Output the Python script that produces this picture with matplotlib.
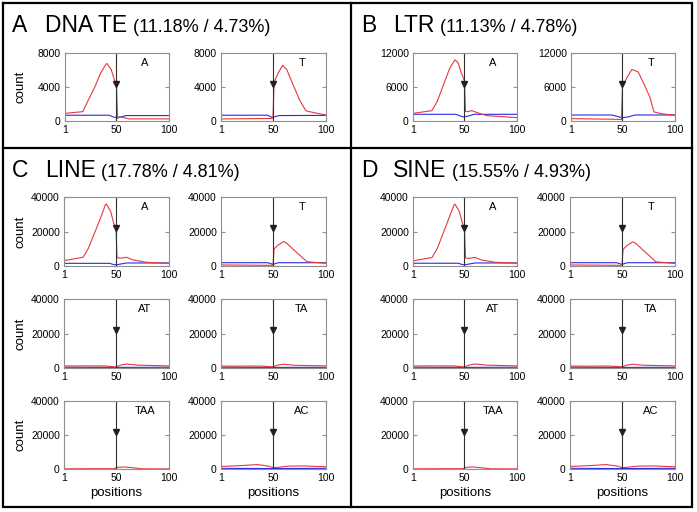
import matplotlib.pyplot as plt

plt.rcParams['font.family'] = ['Liberation Sans', 'DejaVu Sans']

# ==========================================
# data, x = position, y = count
# ==========================================
# A  DNA TE
dna_A_red_x = [1, 18, 21, 29, 35, 40, 41, 45, 48, 50, 51, 53, 57, 62, 100]
dna_A_red_y = [900, 1100, 1900, 3900, 5650, 6700, 6750, 6050, 4850, 4350, 300, 500, 400, 250, 250]
dna_A_blue_x = [1, 43, 47, 50, 54, 59, 100]
dna_A_blue_y = [680, 680, 480, 400, 470, 640, 640]
dna_T_red_x = [1, 48, 50, 51, 52, 55, 59, 63, 69, 75, 81, 88, 100]
dna_T_red_y = [240, 300, 320, 4450, 4850, 5650, 6550, 6050, 4250, 2500, 1200, 1000, 700]
dna_T_blue_x = [1, 45, 49, 52, 56, 100]
dna_T_blue_y = [680, 680, 430, 510, 640, 660]

# B  LTR
ltr_A_red_x = [1, 19, 24, 30, 36, 41, 44, 47, 49, 50, 51, 53, 57, 62, 71, 100]
ltr_A_red_y = [1350, 1830, 3430, 6380, 9340, 10800, 10250, 8450, 7570, 7000, 1700, 1650, 1830, 1480, 950, 590]
ltr_A_blue_x = [1, 42, 46, 49, 54, 59, 100]
ltr_A_blue_y = [1180, 1180, 890, 710, 890, 1180, 1180]
ltr_T_red_x = [1, 43, 49, 50, 51, 54, 59, 65, 71, 76, 80, 87, 100]
ltr_T_red_y = [420, 300, 250, 6000, 6300, 7600, 9100, 8650, 6300, 4250, 1600, 1300, 1000]
ltr_T_blue_x = [1, 40, 47, 50, 55, 62, 100]
ltr_T_blue_y = [1060, 1060, 700, 590, 710, 1060, 1060]

# C  LINE
line_A_red_x = [1, 19, 24, 31, 36, 40, 41, 45, 48, 49, 50, 51, 54, 60, 66, 79, 100]
line_A_red_y = [3100, 5050, 10300, 21000, 28700, 35500, 35900, 31600, 24500, 23300, 22000, 4850, 4500, 5050, 3500, 2150, 1550]
line_A_blue_x = [1, 44, 48, 50, 54, 60, 100]
line_A_blue_y = [1550, 1550, 800, 600, 1100, 1750, 1750]
line_T_red_x = [1, 48, 50, 51, 55, 60, 63, 69, 75, 82, 100]
line_T_red_y = [600, 400, 450, 9900, 12200, 14200, 13200, 9700, 6400, 2500, 1550]
line_T_blue_x = [1, 45, 50, 55, 100]
line_T_blue_y = [1900, 1900, 950, 1900, 1900]
line_AT_red_x = [1, 40, 50, 55, 60, 70, 100]
line_AT_red_y = [1200, 1200, 600, 1800, 2300, 1700, 1200]
line_AT_blue_x = [1, 50, 100]
line_AT_blue_y = [450, 350, 450]
line_TA_red_x = [1, 40, 50, 55, 60, 70, 100]
line_TA_red_y = [1100, 1100, 650, 1700, 2200, 1600, 1200]
line_TA_blue_x = [1, 50, 100]
line_TA_blue_y = [450, 350, 400]
line_TAA_red_x = [1, 48, 52, 58, 65, 75, 100]
line_TAA_red_y = [100, 150, 1000, 1200, 800, 100, 50]
line_TAA_blue_x = [1, 100]
line_TAA_blue_y = [50, 50]
line_AC_red_x = [1, 20, 35, 45, 50, 55, 65, 80, 100]
line_AC_red_y = [1500, 2000, 2600, 1800, 800, 1000, 1700, 1800, 1300]
line_AC_blue_x = [1, 50, 100]
line_AC_blue_y = [400, 250, 400]

# D  SINE
sine_A_red_x = [1, 19, 24, 31, 36, 40, 41, 45, 48, 49, 50, 51, 54, 60, 66, 79, 100]
sine_A_red_y = [3000, 4900, 10000, 21000, 29000, 35300, 35800, 31800, 24800, 23500, 22200, 4700, 4400, 5000, 3500, 2200, 1600]
sine_A_blue_x = [1, 44, 48, 50, 54, 60, 100]
sine_A_blue_y = [1600, 1600, 800, 600, 1100, 1750, 1750]
sine_T_red_x = [1, 48, 50, 51, 55, 60, 63, 69, 75, 82, 100]
sine_T_red_y = [600, 400, 450, 9600, 12000, 14000, 13200, 9700, 6400, 2400, 1500]
sine_T_blue_x = [1, 45, 50, 55, 100]
sine_T_blue_y = [1900, 1900, 950, 1900, 1900]
sine_AT_red_x = [1, 40, 50, 55, 60, 70, 100]
sine_AT_red_y = [1200, 1200, 600, 1800, 2300, 1700, 1200]
sine_AT_blue_x = [1, 50, 100]
sine_AT_blue_y = [450, 350, 450]
sine_TA_red_x = [1, 40, 50, 55, 60, 70, 100]
sine_TA_red_y = [1100, 1100, 650, 1700, 2200, 1600, 1200]
sine_TA_blue_x = [1, 50, 100]
sine_TA_blue_y = [450, 350, 400]
sine_TAA_red_x = [1, 48, 52, 58, 65, 75, 100]
sine_TAA_red_y = [100, 150, 1000, 1200, 800, 100, 50]
sine_TAA_blue_x = [1, 100]
sine_TAA_blue_y = [50, 50]
sine_AC_red_x = [1, 20, 35, 45, 50, 55, 65, 80, 100]
sine_AC_red_y = [1500, 2000, 2600, 1800, 800, 1000, 1700, 1800, 1300]
sine_AC_blue_x = [1, 50, 100]
sine_AC_blue_y = [400, 250, 400]

# panel titles
panel_letters = ['A', 'B', 'C', 'D']
panel_names = ['DNA TE', 'LTR', 'LINE', 'SINE']
panel_pcts = ['(11.18% / 4.73%)', '(11.13% / 4.78%)', '(17.78% / 4.81%)', '(15.55% / 4.93%)']

# ==========================================
# figure
# ==========================================
W, H = 697, 512
fig = plt.figure(figsize=(W / 100, H / 100), dpi=100)

bg = fig.add_axes([0, 0, 1, 1])
bg.set_xlim(0, W); bg.set_ylim(H, 0); bg.axis('off')

# borders
bw = 1.6
bg.plot([3, 692, 692, 3, 3], [3, 3, 507, 507, 3], 'k-', lw=bw, solid_joinstyle='miter')
bg.plot([351, 351], [3, 507], 'k-', lw=bw)
bg.plot([3, 692], [148, 148], 'k-', lw=bw)


def add_ax(x0, y0, x1, y1):
    return fig.add_axes([x0 / W, 1 - y1 / H, (x1 - x0) / W, (y1 - y0) / H])


def draw(ax, rx, ry, bx, by, ymax, label):
    ax.plot(bx, by, color='#2a2ae6', lw=0.8)
    ax.plot(rx, ry, color='#e8383a', lw=0.8)
    ax.axvline(50, color='#303030', lw=0.8)
    ax.plot([50], [0.55], marker='v', ms=4.5, color='#202020', transform=ax.get_xaxis_transform())
    ax.set_xlim(1, 100); ax.set_ylim(0, ymax)
    ax.set_xticks([1, 50, 100])
    yt = [0, ymax // 2, ymax]
    ax.set_yticks(yt)
    ax.set_yticklabels([str(v) for v in yt])
    ax.tick_params(direction='in', length=3, labelsize=7.5, top=True, right=True,
                   color='#909090', pad=3)
    for s in ax.spines.values():
        s.set_color('#909090'); s.set_linewidth(0.8)
    ax.text(0.77, 0.85, label, transform=ax.transAxes, ha='center', va='center', fontsize=8)


def title(xl, xn, y, letter, name, pct):
    bg.text(xl, y, letter, fontsize=16.5, va='baseline')
    t = bg.text(xn, y, name, fontsize=16.5, va='baseline')
    bg.annotate(pct, xy=(1, 0), xycoords=t, xytext=(4, 0.5), textcoords='offset points',
                fontsize=13, va='bottom')


# titles
title(12, 45, 32, panel_letters[0], panel_names[0], panel_pcts[0])
title(361, 393, 32, panel_letters[1], panel_names[1], panel_pcts[1])
title(12, 45, 177, panel_letters[2], panel_names[2], panel_pcts[2])
title(361, 393, 177, panel_letters[3], panel_names[3], panel_pcts[3])

# panel A / B
ax = add_ax(65, 53, 169, 121); draw(ax, dna_A_red_x, dna_A_red_y, dna_A_blue_x, dna_A_blue_y, 8000, 'A')
ax = add_ax(221, 53, 326, 121); draw(ax, dna_T_red_x, dna_T_red_y, dna_T_blue_x, dna_T_blue_y, 8000, 'T')
ax = add_ax(413, 53, 517, 121); draw(ax, ltr_A_red_x, ltr_A_red_y, ltr_A_blue_x, ltr_A_blue_y, 12000, 'A')
ax = add_ax(571, 53, 675, 121); draw(ax, ltr_T_red_x, ltr_T_red_y, ltr_T_blue_x, ltr_T_blue_y, 12000, 'T')
bg.text(20, 87, 'count', rotation=90, ha='center', va='center', fontsize=9.5)

# panel C / D
rows = [(197, 266), (299, 368), (401, 469)]
cols_c = [(64, 169), (221, 326)]
cols_d = [(413, 517), (570, 675)]
c_series = [
    [(line_A_red_x, line_A_red_y, line_A_blue_x, line_A_blue_y, 'A'),
     (line_T_red_x, line_T_red_y, line_T_blue_x, line_T_blue_y, 'T')],
    [(line_AT_red_x, line_AT_red_y, line_AT_blue_x, line_AT_blue_y, 'AT'),
     (line_TA_red_x, line_TA_red_y, line_TA_blue_x, line_TA_blue_y, 'TA')],
    [(line_TAA_red_x, line_TAA_red_y, line_TAA_blue_x, line_TAA_blue_y, 'TAA'),
     (line_AC_red_x, line_AC_red_y, line_AC_blue_x, line_AC_blue_y, 'AC')],
]
d_series = [
    [(sine_A_red_x, sine_A_red_y, sine_A_blue_x, sine_A_blue_y, 'A'),
     (sine_T_red_x, sine_T_red_y, sine_T_blue_x, sine_T_blue_y, 'T')],
    [(sine_AT_red_x, sine_AT_red_y, sine_AT_blue_x, sine_AT_blue_y, 'AT'),
     (sine_TA_red_x, sine_TA_red_y, sine_TA_blue_x, sine_TA_blue_y, 'TA')],
    [(sine_TAA_red_x, sine_TAA_red_y, sine_TAA_blue_x, sine_TAA_blue_y, 'TAA'),
     (sine_AC_red_x, sine_AC_red_y, sine_AC_blue_x, sine_AC_blue_y, 'AC')],
]

for cols, series in [(cols_c, c_series), (cols_d, d_series)]:
    for i, (y0, y1) in enumerate(rows):
        for j, (x0, x1) in enumerate(cols):
            rx, ry, bx, by, lab = series[i][j]
            ax = add_ax(x0, y0, x1, y1)
            draw(ax, rx, ry, bx, by, 40000, lab)
            if i == 2:
                ax.set_xlabel('positions', fontsize=9.5)
                ax.xaxis.set_label_coords(0.5, -0.26)

for (y0, y1) in rows:
    bg.text(20, (y0 + y1) / 2, 'count', rotation=90, ha='center', va='center', fontsize=9.5)

fig.savefig('out.png', dpi=100)
